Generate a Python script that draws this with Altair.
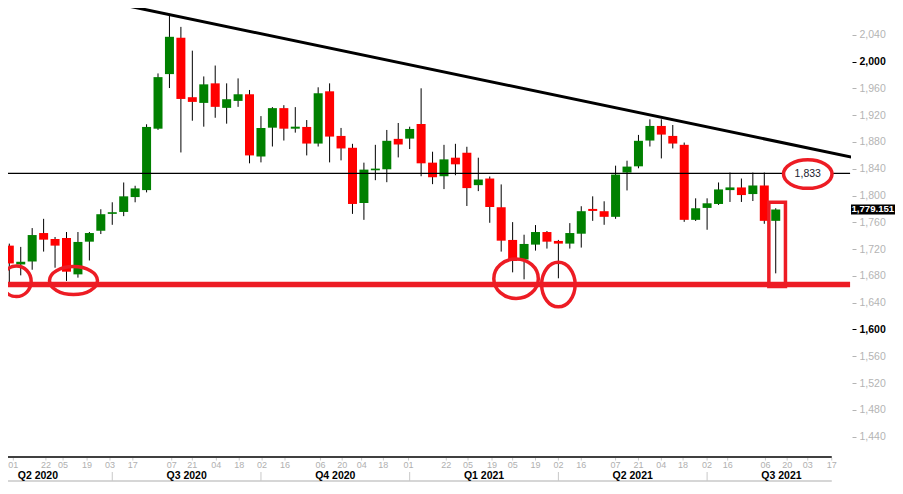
import altair as alt
import pandas as pd

# ---- weekly OHLC ----
opens  = [1695, 1725.2, 1697.1, 1701.5, 1744.0, 1735.1, 1736.6, 1682.3, 1731.1, 1747.4,
          1772.6, 1775.5, 1797.7, 1808.1, 1899.8, 1981.3, 2035.6, 1946.8, 1938.3, 1967.5,
          1930.9, 1941.3, 1951.2, 1858.4, 1901.3, 1930.5, 1899.8, 1902.4, 1877.6, 1955.6,
          1889.0, 1871.3, 1788.8, 1837.7, 1839.2, 1884.6, 1885.0, 1906.8, 1849.1, 1828.8,
          1856.5, 1863.9, 1815.5, 1825.4, 1782.5, 1733.7, 1704.5, 1726.7, 1745.5, 1732.2,
          1728.2, 1743.0, 1780.0, 1776.6, 1768.2, 1834.3, 1843.6, 1882.1, 1903.9, 1889.0,
          1875.7, 1763.7, 1781.5, 1787.4, 1808.1, 1812.1, 1802.2, 1815.0, 1762.2]
highs  = [1732, 1728.2, 1723.3, 1751.4, 1765.2, 1738.1, 1745.5, 1745.5, 1745.5, 1779.5,
          1789.9, 1819.5, 1814.6, 1906.4, 1982.3, 2070.6, 2051.8, 2016.3, 1977.8, 1994.1,
          1967.5, 1974.9, 1957.6, 1918.6, 1932.0, 1934.9, 1932.0, 1912.7, 1961.6, 1967.5,
          1900.9, 1877.2, 1849.1, 1875.7, 1897.9, 1908.3, 1902.8, 1960.1, 1865.4, 1875.7,
          1877.2, 1872.8, 1856.5, 1828.4, 1816.6, 1760.3, 1741.5, 1755.9, 1747.0, 1733.7,
          1758.8, 1784.0, 1798.8, 1791.4, 1844.6, 1852.0, 1890.5, 1913.8, 1913.8, 1905.3,
          1879.1, 1795.8, 1795.8, 1819.5, 1834.3, 1825.4, 1834.3, 1834.3, 1781.0]
lows   = [1690, 1670.0, 1680.8, 1689.2, 1716.3, 1692.2, 1672.5, 1677.4, 1703.0, 1742.5,
          1756.3, 1769.2, 1789.9, 1804.7, 1898.0, 1960.5, 1864.3, 1911.7, 1902.8, 1916.1,
          1907.3, 1932.4, 1848.1, 1849.5, 1873.2, 1882.1, 1893.9, 1859.9, 1873.2, 1849.5,
          1852.5, 1772.6, 1763.7, 1822.9, 1819.9, 1856.9, 1869.4, 1828.8, 1817.0, 1809.6,
          1830.3, 1784.4, 1806.6, 1759.3, 1716.3, 1685.3, 1674.9, 1717.8, 1720.8, 1676.4,
          1720.8, 1722.3, 1762.2, 1756.3, 1765.2, 1807.6, 1840.7, 1873.2, 1855.4, 1870.3,
          1760.7, 1762.0, 1748.9, 1786.0, 1790.4, 1790.4, 1791.8, 1757.8, 1683.8]
closes = [1728, 1698.6, 1701.1, 1741.0, 1734.1, 1725.2, 1686.3, 1730.7, 1744.0, 1772.1,
          1775.1, 1798.8, 1810.6, 1902.4, 1976.8, 2037.0, 1944.2, 1939.8, 1966.0, 1932.4,
          1943.8, 1951.2, 1859.9, 1900.9, 1930.5, 1899.8, 1902.8, 1877.6, 1952.7, 1888.0,
          1870.3, 1787.4, 1838.7, 1840.2, 1881.7, 1876.2, 1899.4, 1848.1, 1827.3, 1854.0,
          1846.6, 1811.1, 1823.9, 1782.9, 1732.6, 1702.2, 1727.7, 1745.5, 1731.1, 1728.2,
          1744.0, 1776.6, 1777.0, 1768.2, 1831.3, 1843.2, 1881.7, 1903.9, 1891.0, 1877.6,
          1763.7, 1781.0, 1788.4, 1809.1, 1812.1, 1800.7, 1815.0, 1762.2, 1779.15]

# ---- x axis labels (candle-index positions) ----
day_labels = ["01", "22", "05", "19", "03", "17", "07", "21", "04", "18", "02", "16",
              "06", "20", "04", "18", "01", "22", "05", "19", "05", "19", "02", "16",
              "07", "21", "04", "18", "02", "16", "06", "20", "03", "17"]
day_pos = [1.35, 4.2, 5.7, 7.8, 9.8, 11.8, 15.2, 17.0, 19.1, 21.1, 23.1, 25.1,
           28.2, 30.1, 31.8, 33.7, 35.9, 39.2, 41.1, 43.2, 45.0, 47.0, 49.0, 51.0,
           54.0, 56.0, 58.0, 59.9, 62.0, 63.8, 67.1, 69.0, 70.8, 72.9]
quarter_labels = ["Q2 2020", "Q3 2020", "Q4 2020", "Q1 2021", "Q2 2021", "Q3 2021"]
quarter_start = [-3, 10, 23, 36, 49, 62]
axis_end = 72.9

# ---- annotation levels ----
resistance_level = 1833
support_level = 1667
last_price = 1779.15
last_label = "1,779.151"
trend_start = (8.92, 2091.8)
trend_end = (74.6, 1857.5)

RED = "#ed1c24"
GRAY = "#b4b4b4"
FONT = "Liberation Sans"
H = 449  # plot height

df = pd.DataFrame({"i": list(range(len(opens))), "open": opens, "high": highs,
                   "low": lows, "close": closes})
df["up"] = df["close"] >= df["open"]

xs = alt.Scale(domain=[0.886, 74.58], nice=False, zero=False, padding=0)
ys = alt.Scale(domain=[1409.6, 2080.0], nice=False, zero=False, padding=0)
bold_test = "datum.value == 2000 || datum.value == 1600"
yaxis = alt.Axis(
    orient="right", values=list(range(1440, 2041, 40)), format=",.0f", domain=False,
    grid=False, tickSize=4, offset=1, labelPadding=3, title=None,
    labelFont=FONT, labelFontSize=10.5, labelOverlap=False, labelBound=False,
    labelColor={"condition": {"test": bold_test, "value": "#000000"}, "value": GRAY},
    labelFontWeight={"condition": {"test": bold_test, "value": "bold"}, "value": "normal"},
    tickColor={"condition": {"test": bold_test, "value": "#000000"}, "value": GRAY},
)
X = lambda f: alt.X(f, type="quantitative", scale=xs, axis=None)
Y = lambda f: alt.Y(f, type="quantitative", scale=ys, axis=yaxis)

base = alt.Chart(df)
wicks = base.mark_rule(color="black", strokeWidth=1).encode(
    x=X("i"), y=Y("low"), y2="high")
bodies = base.mark_bar(size=9, strokeWidth=0).encode(
    x=X("i"), y=Y("open"), y2="close",
    color=alt.Color("up:N", scale=alt.Scale(domain=[True, False],
                                            range=["#008000", "#ff0000"]), legend=None))

lv = pd.DataFrame({"a": [0.886], "b": [74.5], "res": [resistance_level],
                   "sup": [support_level]})
lvc = alt.Chart(lv)
res_line = lvc.mark_rule(color="black", strokeWidth=1.2).encode(
    x=X("a"), x2="b", y=Y("res"))
sup_line = lvc.mark_rule(color=RED, strokeWidth=5.5, strokeCap="butt").encode(
    x=X("a"), x2="b", y=Y("sup"))

tl = pd.DataFrame({"i": [trend_start[0], trend_end[0]], "p": [trend_start[1], trend_end[1]]})
trend = alt.Chart(tl).mark_line(color="black", strokeWidth=3, clip=True).encode(
    x=X("i"), y=Y("p"))


def ellipse_path(w, h):
    r = h / w
    k = 0.5523
    return (f"M 1 0 C 1 {k*r:.4f} {k:.4f} {r:.4f} 0 {r:.4f} "
            f"C {-k:.4f} {r:.4f} -1 {k*r:.4f} -1 0 "
            f"C -1 {-k*r:.4f} {-k:.4f} {-r:.4f} 0 {-r:.4f} "
            f"C {k:.4f} {-r:.4f} 1 {-k*r:.4f} 1 0 Z")


# circled lows: (index, price, width px, height px)
circles = [(1.62, 1671.9, 29.5, 30.5), (6.61, 1673.0, 48, 28),
           (45.3, 1675.9, 44.5, 39.5), (49.0, 1667.0, 33.5, 44.5)]
ell_layers = []
for ci, cp, w, h in circles:
    d = pd.DataFrame({"i": [ci], "p": [cp]})
    ell_layers.append(alt.Chart(d).mark_point(
        shape=ellipse_path(w, h), size=w * w, filled=False, stroke=RED,
        strokeWidth=3.5, opacity=1).encode(x=X("i"), y=Y("p")))

lab = pd.DataFrame({"i": [70.8], "p": [1832.0], "t": ["1,833"]})
lab_oval = alt.Chart(lab).mark_point(
    shape=ellipse_path(48.5, 28.5), size=48.5 ** 2, filled=True, fill="white",
    stroke=RED, strokeWidth=3.5, opacity=1).encode(x=X("i"), y=Y("p"))
lab_text = alt.Chart(lab).mark_text(font=FONT, fontSize=10.5, color="#1a1a2e").encode(
    x=X("i"), y=Y("p"), text="t:N")

box = pd.DataFrame({"x1": [67.4], "x2": [68.85], "y1": [1789.9], "y2": [1664.1]})
last_box = alt.Chart(box).mark_rect(filled=False, stroke=RED, strokeWidth=3.5).encode(
    x=X("x1"), x2="x2", y=Y("y1"), y2="y2")

tag = pd.DataFrame({"p": [last_price], "t": [last_label]})
tag_bg = alt.Chart(tag).mark_rule(color="black", strokeWidth=10, strokeCap="butt").encode(
    x=alt.value(843), x2=alt.value(887), y=Y("p"))
tag_text = alt.Chart(tag).mark_text(font=FONT, fontSize=9.6, fontWeight="bold", color="white",
                                     align="left", baseline="middle", dx=0.5).encode(
    x=alt.value(843), y=Y("p"), text="t:N")

# ---- custom time axis ----
ax = pd.DataFrame({"a": [0.886], "c": [axis_end]})
axis_line = alt.Chart(ax).mark_rule(color="black", strokeWidth=1.3).encode(
    x=X("a"), x2="c", y=alt.value(H))
axis_line2 = alt.Chart(ax).mark_rule(color="#c8c8c8", strokeWidth=1.3).encode(
    x=X("a"), x2="c", y=alt.value(H + 24))
dd = pd.DataFrame({"i": day_pos, "t": day_labels})
day_ticks = alt.Chart(dd).mark_rule(color="#c8c8c8").encode(
    x=X("i"), y=alt.value(H + 1), y2=alt.value(H + 3.5))
day_text = alt.Chart(dd).mark_text(font=FONT, fontSize=9, color="#b0b0b0",
                                    baseline="middle").encode(
    x=X("i"), y=alt.value(H + 8), text="t:N")
qd = pd.DataFrame({"s": quarter_start, "t": quarter_labels})
q_sep = alt.Chart(qd).transform_filter("datum.s > 0").mark_rule(color="#c8c8c8").encode(
    x=X("s"), y=alt.value(H + 15), y2=alt.value(H + 24))
q_text = alt.Chart(qd).transform_calculate(m="datum.s + 6.5").mark_text(
    font=FONT, fontSize=10.5, fontWeight="bold", color="black", baseline="middle").encode(
    x=X("m"), y=alt.value(H + 19), text="t:N")

chart = alt.layer(
    wicks, bodies, res_line, sup_line, trend, *ell_layers, last_box, lab_oval, lab_text,
    tag_bg, tag_text, axis_line, axis_line2, day_ticks, day_text, q_sep, q_text
).properties(
    width=843, height=H,
    autosize=alt.AutoSizeParams(type="none"),
    padding={"left": 0, "top": 0, "right": 44, "bottom": 25},
).configure_view(stroke=None)

chart.save("out.html", embed_options={"renderer": "svg", "actions": False})
